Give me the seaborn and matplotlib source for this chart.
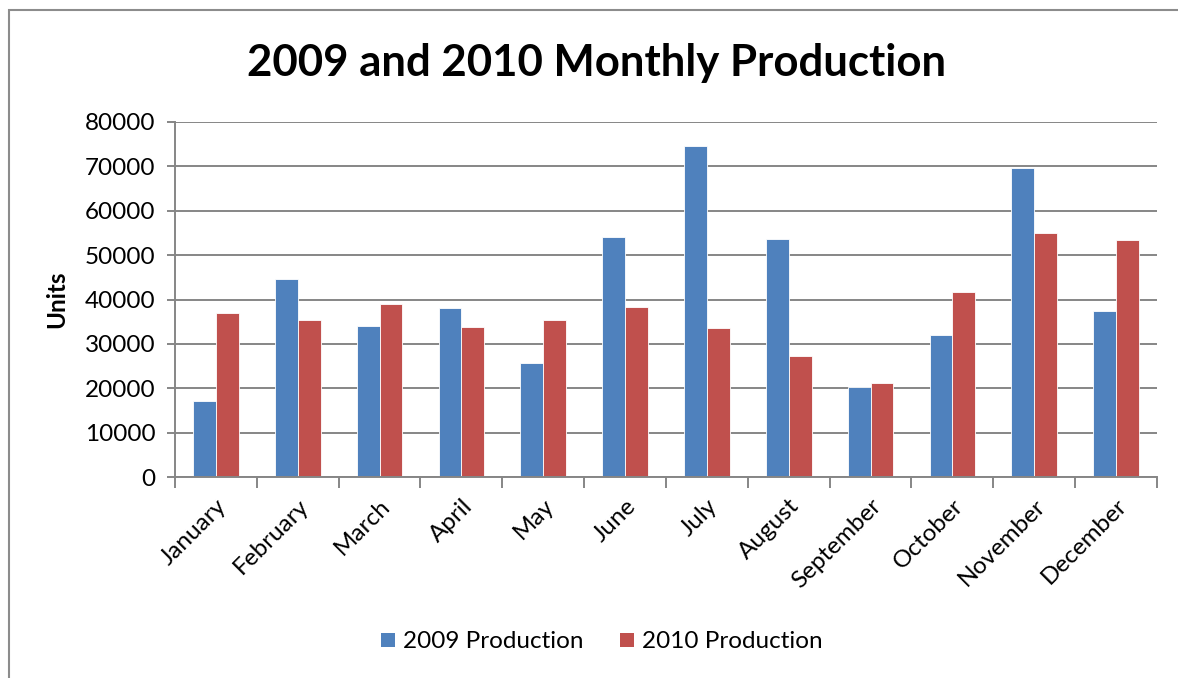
import matplotlib
matplotlib.use("Agg")
import matplotlib.pyplot as plt
import seaborn as sns
import pandas as pd
from matplotlib.patches import Rectangle, Patch

# Monthly production figures
months = ["January", "February", "March", "April", "May", "June",
          "July", "August", "September", "October", "November", "December"]
prod_2009 = [17100, 44700, 34100, 38100, 25600, 54100,
             74500, 53600, 20200, 32100, 69600, 37400]
prod_2010 = [36900, 35300, 38900, 33700, 35400, 38200,
             33500, 27200, 21200, 41700, 55000, 53500]
series = ["2009 Production", "2010 Production"]
y_ticks = [0, 10000, 20000, 30000, 40000, 50000, 60000, 70000, 80000]

df = pd.DataFrame({
    "Month": months * 2,
    "Series": [series[0]] * len(months) + [series[1]] * len(months),
    "Units": prod_2009 + prod_2010,
})

colors = ["#4F81BD", "#C0504D"]
grid_gray = "#868686"

sns.set_theme(style="white")
plt.rcParams["font.family"] = ["Lato", "DejaVu Sans"]
plt.rcParams["text.color"] = "black"
plt.rcParams["axes.labelcolor"] = "black"

W, H = 1178, 678
fig = plt.figure(figsize=(W / 100, H / 100), dpi=100)
ax = fig.add_axes([175 / W, (H - 477) / H, 982 / W, 355 / H])

sns.barplot(data=df, x="Month", y="Units", hue="Series", order=months,
            hue_order=series, palette=colors, saturation=1, width=0.56,
            edgecolor="white", linewidth=0.6, ax=ax, legend=False)

ax.set_xlim(-0.5, len(months) - 0.5)
ax.set_ylim(0, 80000)
ax.set_yticks(y_ticks)
ax.set_yticklabels([str(v) for v in y_ticks], fontsize=17.5, color="black")
ax.yaxis.grid(True, color=grid_gray, linewidth=1.4)
ax.set_axisbelow(True)

# Category labels at the bar groups, tick marks between groups
ax.set_xticks(range(len(months)))
ax.set_xticklabels(months, rotation=45, ha="right", rotation_mode="anchor",
                   fontsize=17.5, color="black")
ax.tick_params(axis="x", which="major", length=0, pad=13)
ax.set_xticks([i - 0.5 for i in range(len(months) + 1)], minor=True)
ax.tick_params(axis="x", which="minor", length=8, width=1.4, color=grid_gray,
               direction="out", bottom=True)
ax.tick_params(axis="y", length=6, width=1.4, color=grid_gray, left=True,
               direction="out", pad=8)

for side in ["top", "right"]:
    ax.spines[side].set_visible(False)
for side in ["left", "bottom"]:
    ax.spines[side].set_color(grid_gray)
    ax.spines[side].set_linewidth(1.4)

ax.set_xlabel("")
ax.set_ylabel("Units", fontsize=17.5, fontweight="bold", labelpad=12,
              color="black")

fig.text(597 / W, 1 - 63 / H, "2009 and 2010 Monthly Production",
         ha="center", va="center", fontsize=31.5, fontweight="bold",
         color="black")

handles = [Patch(facecolor=c, edgecolor="none") for c in colors]
fig.legend(handles, series, loc="center", bbox_to_anchor=(602 / W, 1 - 642 / H),
           ncol=2, frameon=False, fontsize=17.5, handlelength=0.55,
           handleheight=0.55, handletextpad=0.35, columnspacing=1.5)

# Chart area outline
fig.patches.append(Rectangle((9 / W, -0.1), 1.2, 1.1 - 10 / H,
                             transform=fig.transFigure, fill=False,
                             edgecolor="#8c8c8c", linewidth=1.5))

fig.savefig("out.png", dpi=100, facecolor="white")
